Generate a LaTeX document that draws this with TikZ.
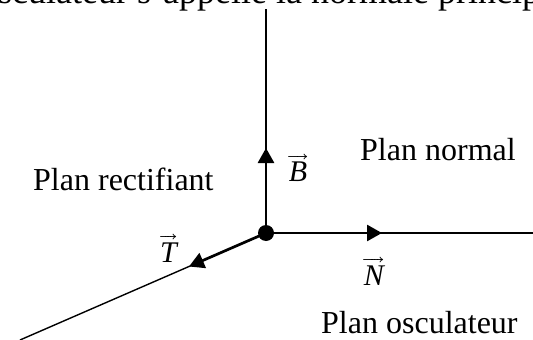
\documentclass[tikz,border=0pt]{standalone}
\usepackage{fontspec}
\setmainfont{Liberation Serif}
\usepackage{unicode-math}
\setmathfont{Latin Modern Math}
\usetikzlibrary{arrows.meta}
\newcommand{\vecl}[1]{$\overrightarrow{\hbox{\itshape #1}}$}
\tikzset{
  lbl/.style={inner sep=0pt,anchor=base west,font=\fontsize{32}{36}\selectfont},
  toplbl/.style={inner sep=0pt,anchor=base west,font=\fontsize{36}{40}\selectfont},
  vec/.style={inner sep=0pt,anchor=base,font=\fontsize{30}{34}\selectfont},
  axis/.style={line width=1.4pt,black},
  thick axis/.style={line width=2.7pt,black},
  tip/.style={-{Triangle[length=15pt,width=16pt]}}
}
\begin{document}
\begin{tikzpicture}[x=1pt,y=-1pt]
\useasboundingbox (0,0) rectangle (533,340);
\begin{scope}
\clip (0,0) rectangle (533,340);
\node[toplbl] (top) at (-20,3.5) {osculateur s'appelle la normale principale};
\end{scope}
\coordinate (O) at (266,233);
\coordinate (Bend) at (266,9);
\coordinate (Nend) at (533,233);
\coordinate (Tend) at (20,340);
\coordinate (Btip) at (266,148);
\coordinate (Ntip) at (382,233);
\coordinate (Ttip) at (189,266.5);
\draw[axis] (O) -- (Bend);
\draw[axis] (O) -- (Nend);
\draw[axis] (O) -- (Tend);
\draw[thick axis,tip] (O) -- (Btip);
\draw[thick axis,tip] (O) -- (Ntip);
\draw[thick axis,tip] (O) -- (Ttip);
\node[circle,fill=black,inner sep=0pt,minimum size=16pt] (dot) at (O) {};
\node[vec] (B) at (298,181.5) {\vecl{B}};
\node[vec] (N) at (374,285) {\vecl{N}};
\node[vec] (T) at (168.5,262) {\vecl{T}};
\node[lbl] (p1) at (33,190) {Plan rectifiant};
\node[lbl] (p2) at (360,160) {Plan normal};
\node[lbl] (p3) at (321,333) {Plan osculateur};
\end{tikzpicture}
\end{document}
